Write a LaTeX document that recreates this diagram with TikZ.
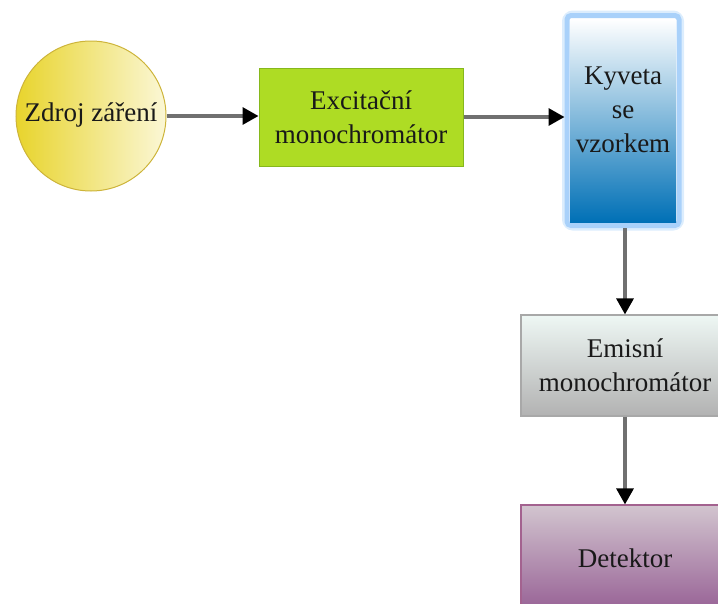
\documentclass[tikz,border=0pt]{standalone}
\usepackage{fontspec}
\setmainfont{Liberation Serif}
\newfontfamily\diagfont{Liberation Serif}
\usetikzlibrary{arrows.meta,shadings}
\definecolor{yelA}{HTML}{E8D42C}
\definecolor{yelB}{HTML}{FBF7D6}
\definecolor{yelE}{HTML}{CDB43A}
\definecolor{grnF}{HTML}{AEDC24}
\definecolor{grnE}{HTML}{86B81C}
\definecolor{bluB}{HTML}{0070B6}
\definecolor{bluG}{HTML}{A9D1FA}
\definecolor{bluH}{HTML}{DCEDFD}
\definecolor{grayT}{HTML}{EEF7F4}
\definecolor{grayB}{HTML}{B2B2B2}
\definecolor{grayE}{HTML}{A8A8A8}
\definecolor{purT}{HTML}{D2C5CF}
\definecolor{purB}{HTML}{9A6698}
\definecolor{purE}{HTML}{A3628F}
\definecolor{arrC}{HTML}{707070}
\tikzset{
  x=1pt,y=1pt,
  lbl/.style={font=\diagfont\fontsize{27}{34}\selectfont, text=black!90, align=center, inner sep=0pt},
  conn/.style={draw=arrC, line width=3.2pt, -{Triangle[length=16pt,width=17pt,color=black]}},
}
\begin{document}
\begin{tikzpicture}
\useasboundingbox (0,0) rectangle (718,-603);
% source circle
\node[circle, draw=yelE, line width=1pt, left color=yelA, right color=yelB, minimum size=150pt, inner sep=0pt] (src) at (91,-116) {};
\node[lbl] (srct) at (91,-115) {Zdroj záření};
% excitation monochromator
\node[rectangle, draw=grnE, line width=1pt, fill=grnF, minimum width=204pt, minimum height=98pt, inner sep=0pt] (exc) at (361,-117) {};
\node[lbl] (exct) at (exc.center) {Excitační\\monochromátor};
% cuvette with glow
\node[rectangle, rounded corners=6pt, draw=bluH, line width=10pt, minimum width=112pt, minimum height=210pt, inner sep=0pt] (kyvh) at (623,-120.5) {};
\node[rectangle, rounded corners=4pt, draw=bluG, line width=5pt, fill=white, minimum width=112pt, minimum height=210pt, inner sep=0pt] (kyvg) at (623,-120.5) {};
\node[rectangle, top color=white, bottom color=bluB, minimum width=106pt, minimum height=203pt, inner sep=0pt] (kyv) at (623,-120.5) {};
\node[lbl] (kyvt) at (623,-110) {Kyveta\\se\\vzorkem};
% emission monochromator
\node[rectangle, draw=grayE, line width=1.2pt, top color=grayT, bottom color=grayB, minimum width=208pt, minimum height=101pt, inner sep=0pt] (emi) at (625,-365.5) {};
\node[lbl] (emit) at (emi.center) {Emisní\\monochromátor};
% detector
\node[rectangle, draw=purE, line width=1.2pt, top color=purT, bottom color=purB, minimum width=208pt, minimum height=101pt, inner sep=0pt] (det) at (625,-555.5) {};
\node[lbl] (dett) at (625,-558) {Detektor};
% connectors
\draw[conn] (src.east) -- (exc.west |- src.east);
\draw[conn] (exc.east) -- (kyvg.west |- exc.east);
\draw[conn] (kyvg.south -| emi.north) -- (emi.north);
\draw[conn] (emi.south) -- (det.north);
\end{tikzpicture}
\end{document}
